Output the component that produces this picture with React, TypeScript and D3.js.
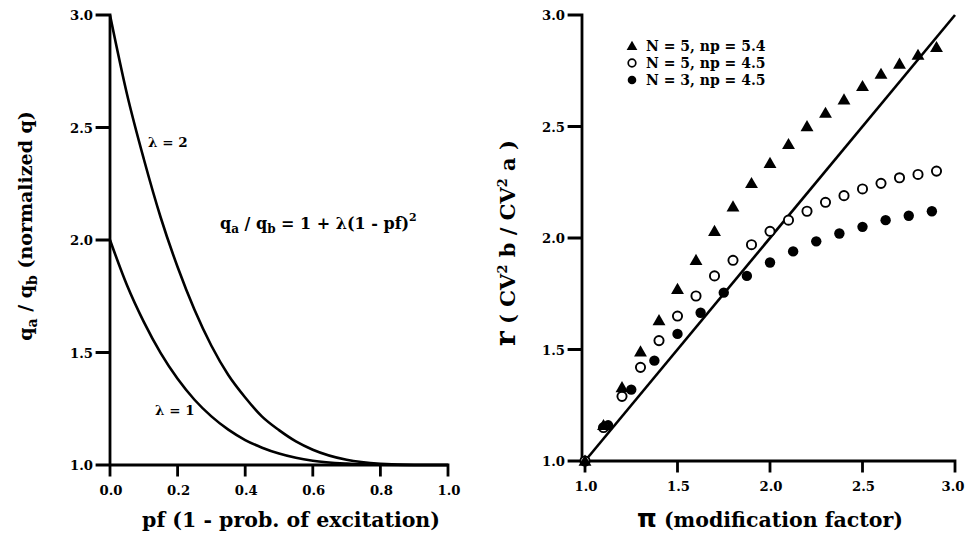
import * as d3 from 'd3';
import React, { useEffect, useRef } from 'react';

// left panel: normalized q versus pf
const pfValues = [0, 0.05, 0.1, 0.15, 0.2, 0.25, 0.3, 0.35, 0.4, 0.45, 0.5, 0.55, 0.6, 0.7, 0.8, 0.9, 1.0];
const lambda2Values = [3.0, 2.65, 2.36, 2.10, 1.88, 1.69, 1.53, 1.40, 1.30, 1.215, 1.155, 1.105, 1.068, 1.023, 1.005, 1.0, 1.0];
const lambda1Values = [2.0, 1.80, 1.636, 1.497, 1.383, 1.29, 1.216, 1.157, 1.111, 1.077, 1.051, 1.032, 1.019, 1.006, 1.001, 1.0, 1.0];

const leftXTicks = [0, 0.2, 0.4, 0.6, 0.8, 1.0];
const leftYTicks = [1.0, 1.5, 2.0, 2.5, 3.0];

// right panel: r versus pi
const triX = [1.0, 1.1, 1.2, 1.3, 1.4, 1.5, 1.6, 1.7, 1.8, 1.9, 2.0, 2.1, 2.2, 2.3, 2.4, 2.5, 2.6, 2.7, 2.8, 2.9];
const triY = [1.0, 1.16, 1.33, 1.49, 1.63, 1.77, 1.90, 2.03, 2.14, 2.245, 2.335, 2.42, 2.50, 2.56, 2.62, 2.68, 2.735, 2.78, 2.82, 2.855];
const openX = [1.0, 1.1, 1.2, 1.3, 1.4, 1.5, 1.6, 1.7, 1.8, 1.9, 2.0, 2.1, 2.2, 2.3, 2.4, 2.5, 2.6, 2.7, 2.8, 2.9];
const openY = [1.0, 1.15, 1.29, 1.42, 1.54, 1.65, 1.74, 1.83, 1.90, 1.97, 2.03, 2.08, 2.12, 2.16, 2.19, 2.22, 2.245, 2.27, 2.285, 2.30];
const filledX = [1.0, 1.125, 1.25, 1.375, 1.5, 1.625, 1.75, 1.875, 2.0, 2.125, 2.25, 2.375, 2.5, 2.625, 2.75, 2.875];
const filledY = [1.0, 1.16, 1.32, 1.45, 1.57, 1.665, 1.755, 1.83, 1.89, 1.94, 1.985, 2.02, 2.05, 2.08, 2.10, 2.12];
const identityLine = [1.0, 3.0];

const rightXTicks = [1.0, 1.5, 2.0, 2.5, 3.0];
const rightYTicks = [1.0, 1.5, 2.0, 2.5, 3.0];

const legendLabels = ['N = 5, np = 5.4', 'N = 5, np = 4.5', 'N = 3, np = 4.5'];

const FONT = '"DejaVu Serif", "Liberation Serif", serif';

const lx = d3.scaleLinear().domain([0, 1]).range([110, 448]);
const ly = d3.scaleLinear().domain([1, 3]).range([465, 15]);
const rx = d3.scaleLinear().domain([1, 3]).range([585, 955]);
const ry = d3.scaleLinear().domain([1, 3]).range([461, 15]);

type G = d3.Selection<SVGGElement, unknown, null, undefined>;

// frame and outward ticks, rendered by React
function Frame({ x, y, xTicks, yTicks, axisX }: {
    x: d3.ScaleLinear<number, number>; y: d3.ScaleLinear<number, number>;
    xTicks: number[]; yTicks: number[]; axisX: number;
}) {
    const x1 = x.range()[1];
    const [y0, y1] = y.range();
    let d = `M${axisX},${y1}V${y0}H${x1}`;
    xTicks.forEach(t => { d += `M${x(t)},${y0}v10`; });
    yTicks.forEach(t => { d += `M${axisX},${y(t)}h-13`; });
    return <path d={d} fill="none" stroke="#000" strokeWidth={2.8} strokeLinecap="square" />;
}

export default function App() {
    const ref = useRef<SVGGElement>(null);

    useEffect(() => {
        const g = d3.select(ref.current) as unknown as G;
        g.selectAll('*').remove();

        const fmt = d3.format('.1f');

        const text = (parent: G, x: number, y: number, size: number, anchor = 'start') =>
            parent.append('text')
                .attr('x', x).attr('y', y)
                .attr('text-anchor', anchor)
                .attr('fill', '#000')
                .style('font-family', FONT)
                .style('font-weight', 'bold')
                .style('font-size', `${size}px`);

        const tickLabels = (
            x: d3.ScaleLinear<number, number>, y: d3.ScaleLinear<number, number>,
            xTicks: number[], yTicks: number[], axisX: number, lastShift = 0
        ) => {
            const y0 = y.range()[0];
            xTicks.forEach((d, i) =>
                text(g, x(d) + 1 - (i === xTicks.length - 1 ? lastShift : 0), y0 + 30, 13.2, 'middle').text(fmt(d)));
            yTicks.forEach(d => text(g, axisX - 17, y(d) + 5, 13.2, 'end').text(fmt(d)));
        };

        // ---------- left panel ----------
        tickLabels(lx, ly, leftXTicks, leftYTicks, lx(0));

        const curve = d3.line<number>()
            .x((_, i) => lx(pfValues[i]))
            .y(d => ly(d))
            .curve(d3.curveMonotoneX);

        [lambda2Values, lambda1Values].forEach(vals => {
            g.append('path')
                .attr('d', curve(vals))
                .attr('fill', 'none')
                .attr('stroke', '#000')
                .attr('stroke-width', 2.6);
        });

        text(g, 148, 147, 13.5).text('λ = 2');
        text(g, 155, 415, 13.5).text('λ = 1');

        const formula = text(g, 220, 229, 16);
        formula.append('tspan').text('q');
        formula.append('tspan').attr('dy', 4).style('font-size', '12px').text('a');
        formula.append('tspan').attr('dy', -4).text(' / q');
        formula.append('tspan').attr('dy', 4).style('font-size', '12px').text('b');
        formula.append('tspan').attr('dy', -4).text('  = 1 + λ(1 - pf)');
        formula.append('tspan').attr('dy', -8).style('font-size', '11px').text('2');

        text(g, 291, 527, 20.5, 'middle').text('pf (1 - prob. of excitation)');

        const lyTitle = g.append('text')
            .attr('transform', 'translate(32,226) rotate(-90)')
            .attr('text-anchor', 'middle')
            .style('font-family', FONT)
            .style('font-weight', 'bold')
            .style('font-size', '19px');
        lyTitle.append('tspan').text('q');
        lyTitle.append('tspan').attr('dy', 5).style('font-size', '14px').text('a');
        lyTitle.append('tspan').attr('dy', -5).text(' / q');
        lyTitle.append('tspan').attr('dy', 5).style('font-size', '14px').text('b');
        lyTitle.append('tspan').attr('dy', -5).text(' (normalized q)');

        // ---------- right panel ----------
        tickLabels(rx, ry, rightXTicks, rightYTicks, rx(1) - 3, 3);

        g.append('line')
            .attr('x1', rx(identityLine[0])).attr('y1', ry(identityLine[0]))
            .attr('x2', rx(identityLine[1])).attr('y2', ry(identityLine[1]))
            .attr('stroke', '#000').attr('stroke-width', 2.6);

        const tri = d3.symbol().type(d3.symbolTriangle).size(72);

        g.append('g').selectAll('circle')
            .data(filledX)
            .join('circle')
            .attr('cx', d => rx(d))
            .attr('cy', (_, i) => ry(filledY[i]))
            .attr('r', 5.2)
            .attr('fill', '#000');

        g.append('g').selectAll('circle')
            .data(openX)
            .join('circle')
            .attr('cx', d => rx(d))
            .attr('cy', (_, i) => ry(openY[i]))
            .attr('r', 4.6)
            .attr('fill', '#fff')
            .attr('stroke', '#000')
            .attr('stroke-width', 1.9);

        g.append('g').selectAll('path')
            .data(triX)
            .join('path')
            .attr('d', tri)
            .attr('transform', (d, i) => `translate(${rx(d)},${ry(triY[i]) + 1})`)
            .attr('fill', '#000');

        // legend
        const legendX = 632;
        const legendY = [46, 63, 80];
        g.append('path').attr('d', d3.symbol().type(d3.symbolTriangle).size(50)())
            .attr('transform', `translate(${legendX},${legendY[0] + 1})`).attr('fill', '#000');
        g.append('circle').attr('cx', legendX).attr('cy', legendY[1]).attr('r', 3.8)
            .attr('fill', '#fff').attr('stroke', '#000').attr('stroke-width', 1.7);
        g.append('circle').attr('cx', legendX).attr('cy', legendY[2]).attr('r', 4.3).attr('fill', '#000');
        legendLabels.forEach((l, i) => text(g, 646, legendY[i] + 5, 14).text(l));

        const rxTitle = text(g, 770, 527, 20.5, 'middle');
        rxTitle.append('tspan').style('font-size', '25px').style('font-family', '"DejaVu Sans", sans-serif').text('π');
        rxTitle.append('tspan').text(' (modification factor)');

        const ryTitle = g.append('text')
            .attr('transform', 'translate(515,243) rotate(-90)')
            .attr('text-anchor', 'middle')
            .style('font-family', FONT)
            .style('font-weight', 'bold')
            .style('font-size', '21px');
        ryTitle.append('tspan').style('font-size', '28px').text('r');
        ryTitle.append('tspan').text('  ( CV');
        ryTitle.append('tspan').attr('dy', -8).style('font-size', '13px').text('2');
        ryTitle.append('tspan').attr('dy', 8).text(' b / CV');
        ryTitle.append('tspan').attr('dy', -8).style('font-size', '13px').text('2');
        ryTitle.append('tspan').attr('dy', 8).text(' a )');
    }, []);

    return (
        <svg width={966} height={542} style={{ position: 'absolute', left: 0, top: 0, background: '#fff' }}>
            <Frame x={lx} y={ly} xTicks={leftXTicks} yTicks={leftYTicks} axisX={lx(0)} />
            <Frame x={rx} y={ry} xTicks={rightXTicks} yTicks={rightYTicks} axisX={rx(1) - 3} />
            <g ref={ref} />
        </svg>
    );
}
